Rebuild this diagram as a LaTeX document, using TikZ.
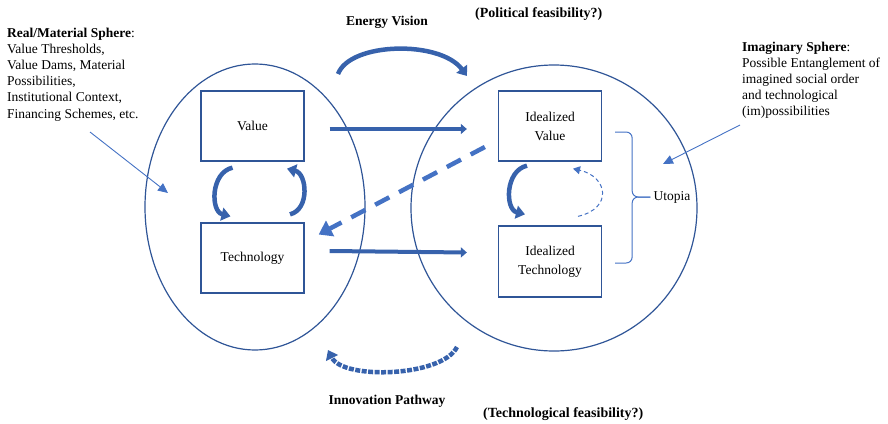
\documentclass[tikz,border=0pt]{standalone}
\usepackage{fontspec}
\setmainfont{Liberation Serif}
\usetikzlibrary{arrows.meta,shapes.geometric,calc}
\definecolor{darkblue}{HTML}{2F5597}
\definecolor{lightblue}{HTML}{4472C4}
\definecolor{arrowblue}{HTML}{3762AC}
\tikzset{every picture/.append style={x=1pt,y=-1pt}}
\tikzset{sphere/.style={draw=darkblue, line width=1.2pt, inner sep=0pt}}
\tikzset{box/.style={draw=darkblue, line width=1.3pt, minimum width=103pt, minimum height=70pt, align=center, font=\fontsize{13.5}{19}\selectfont}}
\tikzset{plain/.style={inner sep=0pt, align=left, font=\fontsize{13.5}{16.2}\selectfont}}
\tikzset{headline/.style={inner sep=0pt, font=\fontsize{13.5}{16}\selectfont\bfseries}}
\tikzset{question/.style={inner sep=0pt, anchor=base west, font=\fontsize{14}{16}\selectfont\bfseries}}
\tikzset{fatarrow/.style={-{Triangle[length=6pt, width=10pt]}, line width=4pt, arrowblue}}
\tikzset{cyclearc/.style={-{Triangle[length=9pt, width=13pt]}, line width=4.5pt, arrowblue}}
\tikzset{dasharc/.style={-{Triangle[length=7pt, width=8pt]}, lightblue, line width=1pt, dash pattern=on 4pt off 3pt}}
\tikzset{backarrow/.style={-{Triangle[length=13pt, width=17pt]}, lightblue, line width=4.5pt, dash pattern=on 16pt off 11pt}}
\tikzset{thinarrow/.style={-{Triangle[length=10pt, width=9pt]}, lightblue, line width=0.9pt}}
\tikzset{brace/.style={lightblue, line width=1pt, rounded corners=6pt}}
\begin{document}
\begin{tikzpicture}
\useasboundingbox (0,0) rectangle (888,423);
% the two spheres
\node (realsph) at (255,207)[sphere, ellipse, minimum width=220pt, minimum height=286pt]{};
\node (imagsph) at (554,208)[sphere, circle, minimum size=286pt]{};
\node (value) at (252.5,126)[box]{Value};
\node (tech) at (252.5,258)[box]{Technology};
\node (idealval) at (550,126)[box]{Idealized\\Value};
\node (idealtech) at (550,261.5)[box, minimum height=71pt]{Idealized\\Technology};
% texts
\node (realtext) at (7,27.5)[plain, anchor=north west]{\textbf{Real/Material Sphere}:\\Value Thresholds,\\Value Dams, Material\\Possibilities,\\Institutional Context,\\Financing Schemes, etc.};
\node (imagtext) at (742,41.5)[plain, anchor=north west]{\textbf{Imaginary Sphere}:\\Possible Entanglement of\\imagined social order\\and technological\\(im)possibilities};
\node (energy) at (387,25)[headline, anchor=base]{Energy Vision};
\node (political) at (475,17)[question]{(Political feasibility?)};
\node (innovation) at (387,404)[headline, anchor=base]{Innovation Pathway};
\node (technological) at (483,417)[question]{(Technological feasibility?)};
\node (utopia) at (672,197)[plain, inner sep=3pt]{Utopia};
\coordinate (realfrom) at (90,132);
\coordinate (realto) at (168,193);
\coordinate (imagfrom) at (740,125);
\coordinate (imagto) at (663,164);
\coordinate (evstart) at (338,74);
\coordinate (evend) at (467,76);
\coordinate (ipstart) at (457,347);
\coordinate (ipend) at (328,350);
% arrows between the spheres
\draw[fatarrow] ($(value.east)+(25,3)$)--($(idealval.west)+(-31,3)$);
\draw[fatarrow] ($(tech.east)+(25,-7)$)--($(idealtech.west)+(-31,-9)$);
\draw[backarrow] ($(idealval.west)+(-13,21)$)--($(tech.east)+(14,-23.5)$);
\draw[cyclearc] (evstart) .. controls +(12,-32) and +(-27,-36) .. (evend);
\draw[cyclearc, dash pattern=on 5pt off 1.5pt] (ipstart) .. controls +(-15,30) and +(15,30) .. (ipend);
% cycles inside the spheres
\draw[cyclearc] ($(value.south)+(-20,6)$) .. controls +(-22,5) and +(-20,-5) .. ($(tech.north)+(-22,-6)$);
\draw[cyclearc] ($(tech.north)+(37.5,-8)$) .. controls +(20,-5) and +(20,5) .. ($(value.south)+(34.5,7)$);
\draw[cyclearc] ($(idealval.south)+(-23,4)$) .. controls +(-22,5) and +(-20,-5) .. ($(idealtech.north)+(-25,-11)$);
\draw[dasharc] ($(idealtech.north)+(28,-9)$) .. controls +(35,-8) and +(35,8) .. ($(idealval.south)+(23,7)$);
% pointers and brace
\draw[thinarrow] (realfrom)--(realto);
\draw[thinarrow] (imagfrom)--(imagto);
\draw[brace] ($(idealval.east)+(13,6)$)--++(17,0)--++(0,65)--(utopia.west);
\draw[brace] ($(idealtech.east)+(13,1.5)$)--++(17,0)--++(0,-66)--(utopia.west);
\end{tikzpicture}
\end{document}
